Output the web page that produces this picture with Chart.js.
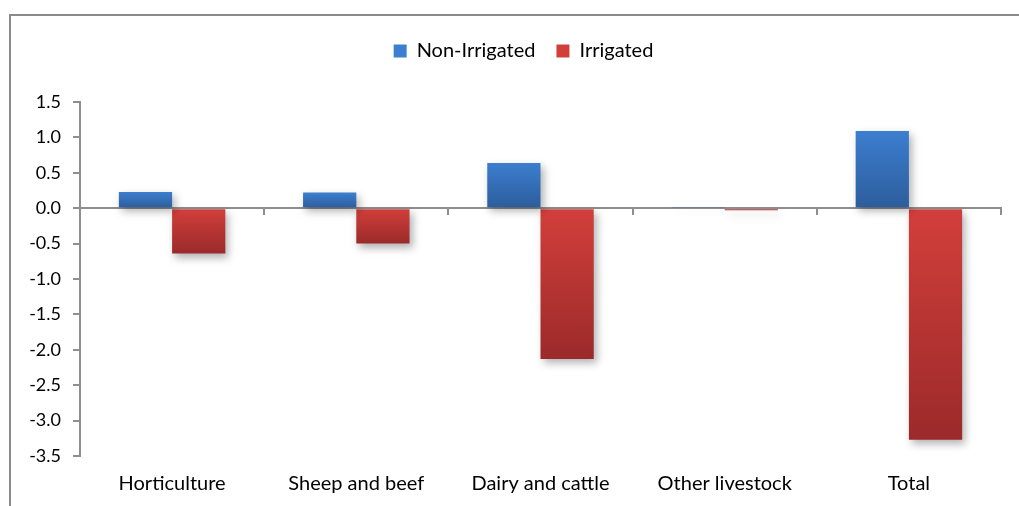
<!DOCTYPE html>
<html>
<head>
<meta charset="utf-8">
<script src="https://cdn.jsdelivr.net/npm/chart.js@4"></script>
<style>
  html, body { margin: 0; padding: 0; background: #fff; overflow: hidden; }
  #frame { position: absolute; left: 9px; top: 14px; width: 1100px; height: 600px;
           border: 2px solid #8b8b8b; box-sizing: border-box; }
  #c { position: absolute; left: 0; top: 0; }
</style>
</head>
<body>
<div id="frame"></div>
<canvas id="c" width="1019" height="506"></canvas>
<script>
// Change by farm type
const categories = ['Horticulture', 'Sheep and beef', 'Dairy and cattle', 'Other livestock', 'Total'];
const nonIrrigated = [0.23, 0.22, 0.64, 0.01, 1.09];
const irrigated = [-0.64, -0.50, -2.13, -0.03, -3.27];
const yMin = -3.5;
const yMax = 1.5;
const yStep = 0.5;

const FONT = 'Lato, "Open Sans", sans-serif';
const AXIS_GREY = '#8e8e8e';

// Vertical light-to-dark fill spanning each bar
function barFill(light, dark, flat) {
  return (ctx) => {
    if (ctx.type !== 'data') return flat;
    const chart = ctx.chart;
    const y = chart.scales.y;
    if (!chart.chartArea || !y) return flat;
    const p0 = y.getPixelForValue(0);
    const p1 = y.getPixelForValue(ctx.raw);
    const top = Math.min(p0, p1), bot = Math.max(p0, p1);
    if (bot - top < 2) return dark;
    const g = chart.ctx.createLinearGradient(0, top, 0, bot);
    g.addColorStop(0, light);
    g.addColorStop(1, dark);
    return g;
  };
}

// Soft drop shadow behind the bars
const barShadow = {
  id: 'barShadow',
  beforeDatasetsDraw(chart) {
    const c = chart.ctx;
    c.save();
    c.shadowColor = 'rgba(0,0,0,0.30)';
    c.shadowBlur = 8;
    c.shadowOffsetX = 3;
    c.shadowOffsetY = 4;
  },
  afterDatasetsDraw(chart) {
    chart.ctx.restore();
  }
};

// Legend band height and horizontal offset
const LEGEND_BAND = 82;
const LEGEND_SHIFT = 18;
const legendBand = {
  id: 'legendBand',
  afterInit(chart) {
    const lg = chart.legend;
    if (!lg) return;
    const fit = lg.fit;
    lg.fit = function () {
      fit.call(this);
      this.height = LEGEND_BAND;
    };
  },
  afterLayout(chart) {
    const lg = chart.legend;
    if (!lg) return;
    lg.left += LEGEND_SHIFT;
    lg.right += LEGEND_SHIFT;
  }
};

new Chart(document.getElementById('c'), {
  type: 'bar',
  data: {
    labels: categories,
    datasets: [
      {
        label: 'Non-Irrigated',
        data: nonIrrigated,
        backgroundColor: barFill('#3c7ecf', '#2c5d9c', '#3872c0'),
        borderWidth: 0,
        categoryPercentage: 0.578,
        barPercentage: 1.0
      },
      {
        label: 'Irrigated',
        data: irrigated,
        backgroundColor: barFill('#d23f3b', '#9b2a2a', '#c0383a'),
        borderWidth: 0,
        categoryPercentage: 0.578,
        barPercentage: 1.0
      }
    ]
  },
  options: {
    responsive: false,
    animation: false,
    layout: { padding: { left: 10, right: 18, top: 20, bottom: 0 } },
    plugins: {
      tooltip: { enabled: false },
      legend: {
        position: 'top',
        align: 'center',
        labels: {
          color: '#000',
          font: { family: FONT, size: 20 },
          boxWidth: 13,
          boxHeight: 13,
          padding: 21
        }
      }
    },
    scales: {
      x: {
        type: 'category',
        position: 'bottom',
        grid: { display: false, drawTicks: false },
        border: { display: false },
        ticks: {
          color: '#000',
          font: { family: FONT, size: 20 },
          padding: 16,
          maxRotation: 0,
          autoSkip: false
        },
        afterFit: (s) => { s.height = 50; }
      },
      xZero: {
        type: 'category',
        position: { y: 0 },
        offset: true,
        z: 1,
        grid: {
          display: true,
          offset: true,
          drawOnChartArea: false,
          drawTicks: true,
          tickLength: 6,
          color: AXIS_GREY,
          lineWidth: 2
        },
        border: { display: true, color: AXIS_GREY, width: 2 },
        ticks: { display: false },
        afterFit: (s) => { s.height = 0; }
      },
      y: {
        min: yMin,
        max: yMax,
        ticks: {
          stepSize: yStep,
          color: '#000',
          font: { family: FONT, size: 18 },
          padding: 12,
          callback: (v) => Number(v).toFixed(1)
        },
        grid: {
          drawOnChartArea: false,
          drawTicks: true,
          tickLength: 7,
          color: AXIS_GREY,
          lineWidth: 2
        },
        border: { color: AXIS_GREY, width: 2 },
        afterFit: (s) => { s.width = 70; }
      }
    }
  },
  plugins: [barShadow, legendBand]
});
</script>
</body>
</html>
